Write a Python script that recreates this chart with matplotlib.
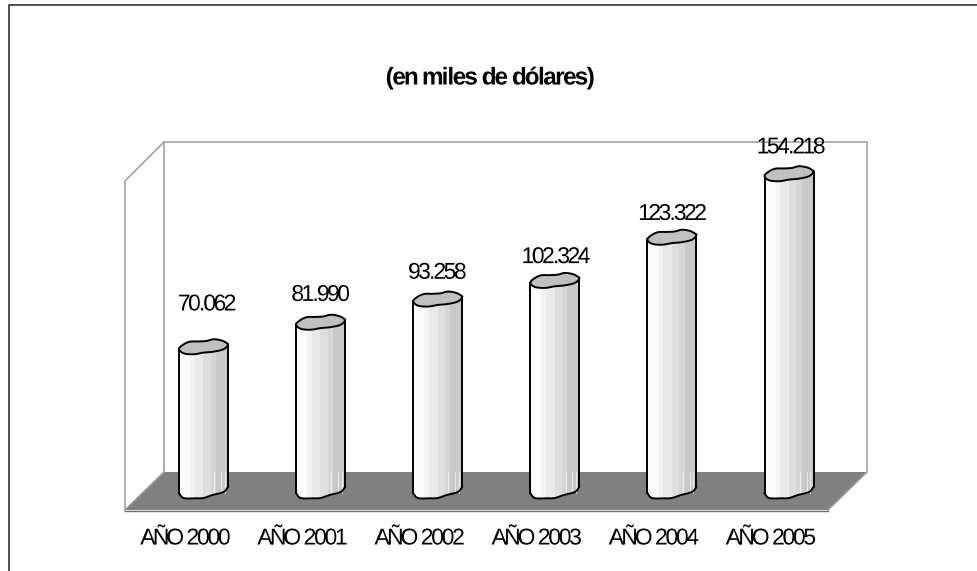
import numpy as np
import matplotlib
matplotlib.use("Agg")
import matplotlib.pyplot as plt
from matplotlib.patches import Polygon
from matplotlib.path import Path
from matplotlib.patheffects import AbstractPathEffect

years = ["AÑO 2000", "AÑO 2001", "AÑO 2002", "AÑO 2003", "AÑO 2004", "AÑO 2005"]
values = [70062, 81990, 93258, 102324, 123322, 154218]
value_labels = ["70.062", "81.990", "93.258", "102.324", "123.322", "154.218"]
title = "(en miles de dólares)"

W, H = 977, 571
PX_PER_CAT = 117.1      # pixels between two columns
PX_PER_UNIT = 0.002056  # pixels per thousand dollars
X0, Y0 = 203.5, 489     # pixel position of the first column at zero

# shading bands of a column, (start, end) as fractions of its width
bands = [(0, .23, "#fbfbfb"), (.23, .32, "#f3f3f3"), (.32, .50, "#e9e9e9"),
         (.50, .65, "#dedede"), (.65, .76, "#d5d5d5"), (.76, 1, "#c9c9c9")]
# hand-drawn look of the column ends, pixel offsets from the centre
cap_px = [(-24.5, 4), (-20, -0.5), (-13.5, -3.3), (-5, -3.5), (3, -4), (10, -5.7), (18, -4.5),
          (23, -2), (24.5, 0), (20, 4.3), (10, 6.7), (0, 7.7), (-10, 9.3), (-20, 8.3)]
base_px = [(-24.5, 4), (-20, 9), (-8, 9.3), (0, 9), (9, 6), (20, 3), (24.5, -2)]
# label offsets above each column top
label_dx = [3.5, 0, -0.5, 1, 0.5, 2]
label_dy = [41, 26, 25, 22, 22, 25]


class Tracking(AbstractPathEffect):
    # pulls the glyphs of a text closer together without narrowing them
    def __init__(self, factor):
        super().__init__()
        self.factor = factor

    def draw_path(self, renderer, gc, tpath, affine, rgbFace=None):
        verts = tpath.vertices.copy()
        mid = (verts[:, 0].min() + verts[:, 0].max()) / 2
        starts = np.flatnonzero(tpath.codes == Path.MOVETO)
        for a, b in zip(starts, list(starts[1:]) + [len(verts)]):
            centre = (verts[a:b, 0].min() + verts[a:b, 0].max()) / 2
            verts[a:b, 0] += (centre - mid) * (self.factor - 1)
        renderer.draw_path(gc, Path(verts, tpath.codes), affine, rgbFace)


def smooth(points, closed):
    # Catmull-Rom through the given points
    p = np.array(points, dtype=float)
    n = len(p)
    out = []
    last = n if closed else n - 1
    for i in range(last):
        if closed:
            a, b, c, d = p[(i - 1) % n], p[i], p[(i + 1) % n], p[(i + 2) % n]
        else:
            a, b, c, d = p[max(i - 1, 0)], p[i], p[i + 1], p[min(i + 2, n - 1)]
        for t in np.linspace(0, 1, 8, endpoint=False):
            out.append(.5 * (2 * b + (c - a) * t + (2 * a - 5 * b + 4 * c - d) * t ** 2
                             + (3 * b - a - 3 * c + d) * t ** 3))
    if not closed:
        out.append(p[-1])
    return np.array(out)


def to_data(offsets, i, v):
    return np.column_stack([i + offsets[:, 0] / PX_PER_CAT, v - offsets[:, 1] / PX_PER_UNIT])


plt.rcParams["font.family"] = ["Liberation Sans", "DejaVu Sans"]
fig = plt.figure(figsize=(W / 100, H / 100), dpi=100, facecolor="white")

# chart box in pixel coordinates
box = fig.add_axes([0, 0, 1, 1])
box.set_xlim(0, W)
box.set_ylim(H, 0)
box.axis("off")
box.plot([8.5, 8.5, W], [H, 5, 5], color="#222222", lw=1.1, solid_joinstyle="miter")
box.add_patch(Polygon([(164, 472), (867, 472), (828, 510), (125, 510)], fc="#808080", ec="none"))
box.plot([125, 828], [510.5, 510.5], color="#6a6a6a", lw=1)
wall = dict(color="#9a9a9a", lw=1.1, solid_joinstyle="miter")
box.plot([125, 125, 164, 867, 867, 828], [510, 181, 142, 142, 472, 510], **wall)
box.plot([164, 164], [142, 472], **wall)
box.plot([125, 164], [510, 472], **wall)
box.text(490.5, 78, title, fontsize=17.5, fontweight="bold", ha="center", va="center",
         path_effects=[Tracking(.86)])

# columns on value axes that share the same figure area
ax = fig.add_axes([0, 0, 1, 1])
ax.patch.set_visible(False)
ax.axis("off")
ax.set_xlim(-X0 / PX_PER_CAT, (W - X0) / PX_PER_CAT)
ax.set_ylim(-(H - Y0) / PX_PER_UNIT, Y0 / PX_PER_UNIT)

half = 24.5 / PX_PER_CAT
x = np.arange(len(values))
for i, v in zip(x, values):
    cap = to_data(smooth(cap_px, True), i, v)
    base = to_data(smooth(base_px, False), i, 0)
    body = Polygon(np.vstack([[[i - half, v - 4 / PX_PER_UNIT]], base, [[i + half, v]]]),
                   fc="none", ec="none")
    ax.add_patch(body)
    for start, end, color in bands:
        rects = ax.bar(i - half + (start + end) * half, v + 10 / PX_PER_UNIT,
                       width=(end - start) * 2 * half + .002, bottom=-10 / PX_PER_UNIT,
                       color=color, lw=0)
        rects[0].set_clip_path(body)
    # thin lighter streaks near the foot of the column
    for frac in (.72, .86, .93):
        ax.plot([i - half + frac * 2 * half] * 2, [17 / PX_PER_UNIT, -4 / PX_PER_UNIT],
                color="#f0f0f0", lw=.6)
    ax.plot(base[:, 0], base[:, 1], color="black", lw=1.4)
    ax.plot([i - half, i - half], [0 - 4 / PX_PER_UNIT, v - 4 / PX_PER_UNIT], color="black", lw=1.4)
    ax.plot([i + half, i + half], [0 + 2 / PX_PER_UNIT, v], color="black", lw=1.4)
    ax.add_patch(Polygon(cap, fc="#c0c0c0", ec="black", lw=1.4, zorder=3))

for i, v, text, dx, dy in zip(x, values, value_labels, label_dx, label_dy):
    ax.annotate(text, (i, v), xytext=(dx * .72, dy * .72), textcoords="offset points",
                ha="center", va="center", fontsize=16.5, color="black", zorder=4,
                path_effects=[Tracking(.8)])
for i, text in zip(x, years):
    ax.annotate(text, (i, 0), xytext=(-18 * .72, -49 * .72), textcoords="offset points",
                ha="center", va="center", fontsize=16.5, color="black",
                path_effects=[Tracking(.82)])

fig.savefig("out.png", dpi=100)
